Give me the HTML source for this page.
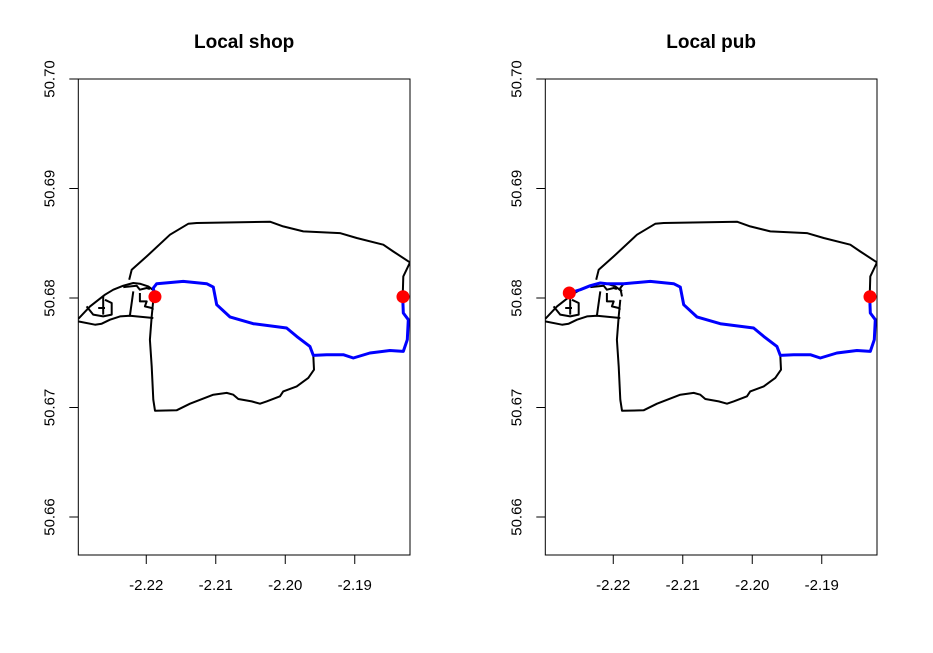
<!DOCTYPE html>
<html><head><meta charset="utf-8"><style>
html,body{margin:0;padding:0;background:#fff;}
svg{display:block;font-family:"Liberation Sans",Arial,sans-serif;}
</style></head><body>
<svg id="chart" width="933" height="653" viewBox="0 0 933 653"></svg>
<script>
const xTicks = [-2.22, -2.21, -2.20, -2.19];
const xTickLabels = ["-2.22", "-2.21", "-2.20", "-2.19"];
const yTicks = [50.66, 50.67, 50.68, 50.69, 50.70];
const yTickLabels = ["50.66", "50.67", "50.68", "50.69", "50.70"];
const panelTitles = ["Local shop", "Local pub"];

const roadOuterLon = [-2.22245,-2.22210,-2.21994,-2.21659,-2.21396,-2.21275,-2.20220,-2.20029,-2.19741,-2.19213,-2.18972,-2.18589,-2.18446,-2.18205,-2.18301,-2.18310];
const roadOuterLat = [50.68167,50.68258,50.68380,50.68578,50.68678,50.68685,50.68697,50.68654,50.68608,50.68593,50.68548,50.68487,50.68425,50.68325,50.68197,50.68015];
const roadLowerLon = [-2.19597,-2.19587,-2.19669,-2.19836,-2.20029,-2.20076,-2.20268,-2.20364,-2.20483,-2.20676,-2.20748,-2.20843,-2.21036,-2.21371,-2.21563,-2.21875,-2.21899,-2.21922,-2.21947,-2.21922,-2.21899];
const roadLowerLat = [50.67476,50.67345,50.67270,50.67193,50.67147,50.67102,50.67056,50.67035,50.67056,50.67078,50.67117,50.67133,50.67117,50.67035,50.66974,50.66971,50.67071,50.67375,50.67619,50.67832,50.67984];
const roadWestTopLon = [-2.22979,-2.22810,-2.22594,-2.22475,-2.22331,-2.22187,-2.22091,-2.21971,-2.21875];
const roadWestTopLat = [50.67808,50.67923,50.68030,50.68076,50.68112,50.68137,50.68131,50.68106,50.68060];
const roadWestBottomLon = [-2.22979,-2.22738,-2.22642,-2.22522,-2.22378,-2.22235,-2.21899];
const roadWestBottomLat = [50.67786,50.67756,50.67765,50.67802,50.67832,50.67838,50.67817];
const roadInner1Lon = [-2.22858,-2.22763,-2.22619,-2.22498,-2.22498,-2.22594];
const roadInner1Lat = [50.67923,50.67848,50.67832,50.67848,50.67954,50.67984];
const roadInner2Lon = [-2.22619,-2.22619];
const roadInner2Lat = [50.68015,50.67848];
const roadInner3Lon = [-2.22691,-2.22594];
const roadInner3Lat = [50.67909,50.67909];
const roadInner4Lon = [-2.22187,-2.22235];
const roadInner4Lat = [50.68060,50.67838];
const roadInner5Lon = [-2.22331,-2.22138,-2.22091,-2.21994,-2.21947];
const roadInner5Lat = [50.68100,50.68112,50.68076,50.68091,50.68082];
const roadInner6Lon = [-2.22091,-2.22091,-2.21994,-2.22019,-2.21922,-2.21899];
const roadInner6Lat = [50.68046,50.67969,50.67969,50.67923,50.67909,50.67893];

const routeShopLon = [-2.18310,-2.18301,-2.18230,-2.18244,-2.18301,-2.18494,-2.18782,-2.19021,-2.19165,-2.19404,-2.19597,-2.19645,-2.19836,-2.19980,-2.20460,-2.20796,-2.20987,-2.21036,-2.21131,-2.21468,-2.21850,-2.21899,-2.21875];
const routeShopLat = [50.68015,50.67863,50.67802,50.67619,50.67512,50.67521,50.67498,50.67452,50.67482,50.67482,50.67476,50.67558,50.67649,50.67726,50.67765,50.67827,50.67939,50.68100,50.68131,50.68152,50.68131,50.68091,50.68015];
const routePubLon = [-2.18310,-2.18301,-2.18230,-2.18244,-2.18301,-2.18494,-2.18782,-2.19021,-2.19165,-2.19404,-2.19597,-2.19645,-2.19836,-2.19980,-2.20460,-2.20796,-2.20987,-2.21036,-2.21131,-2.21468,-2.21850,-2.22091,-2.22187,-2.22331,-2.22475,-2.22633];
const routePubLat = [50.68015,50.67863,50.67802,50.67619,50.67512,50.67521,50.67498,50.67452,50.67482,50.67482,50.67476,50.67558,50.67649,50.67726,50.67765,50.67827,50.67939,50.68100,50.68131,50.68152,50.68131,50.68131,50.68137,50.68112,50.68076,50.68046];
const shopPointsLon = [-2.21875, -2.18306];
const shopPointsLat = [50.68012, 50.68012];
const pubPointsLon = [-2.22633, -2.18306];
const pubPointsLat = [50.68046, 50.68012];

const NS = "http://www.w3.org/2000/svg";
const svgEl = document.getElementById("chart");
const xMin = -2.22978, xMax = -2.18205, yMin = 50.65653, yMax = 50.70;
const pw = 331.7, plotTop = 79, plotBottom = 555;

function mk(tag, attrs, parent){ const e=document.createElementNS(NS,tag); for(const k in attrs) e.setAttribute(k,attrs[k]); parent.appendChild(e); return e; }

function drawPanel(idx, left, routeLon, routeLat, ptLon, ptLat){
  const sx = v => left + (v - xMin) / (xMax - xMin) * pw;
  const sy = v => plotBottom - (v - yMin) / (yMax - yMin) * (plotBottom - plotTop);
  const g = mk("g", {}, svgEl);
  
  
  const clipId = "clip" + idx;
  const cp = mk("clipPath", {id: clipId}, g);
  mk("rect", {x:left, y:plotTop, width:pw, height:plotBottom-plotTop}, cp);
  const plot = mk("g", {"clip-path":"url(#"+clipId+")"}, g);
  const pts = (lo, la) => lo.map((v,i)=>sx(v).toFixed(1)+","+sy(la[i]).toFixed(1)).join(" ");
  const roads = [[roadOuterLon,roadOuterLat],[roadLowerLon,roadLowerLat],[roadWestTopLon,roadWestTopLat],[roadWestBottomLon,roadWestBottomLat],[roadInner1Lon,roadInner1Lat],[roadInner2Lon,roadInner2Lat],[roadInner3Lon,roadInner3Lat],[roadInner4Lon,roadInner4Lat],[roadInner5Lon,roadInner5Lat],[roadInner6Lon,roadInner6Lat],[routeShopLon,routeShopLat]];
  roads.forEach(r => {
    const p = mk("polyline", {points: pts(r[0], r[1]), fill:"none", stroke:"#000", "stroke-width":2, "stroke-linejoin":"round"}, plot);
    
    
  });
  const route = mk("polyline", {points: pts(routeLon, routeLat), fill:"none", stroke:"#0000ff", "stroke-width":3, "stroke-linejoin":"round"}, plot);
  
  
  ptLon.forEach((v,i) => {
    const c = mk("circle", {cx:sx(v), cy:sy(ptLat[i]), r:6.5, fill:"#ff0000"}, plot);
    
    
  });
  const box = mk("rect", {x:left, y:plotTop, width:pw, height:plotBottom-plotTop, fill:"none", stroke:"#000", "stroke-width":1}, g);
  
  
  xTicks.forEach((t,i) => {
    const x = sx(t);
    const tk = mk("line", {x1:x, x2:x, y1:plotBottom, y2:plotBottom+9, stroke:"#000"}, g);
    
    
    const tx = mk("text", {x:x, y:plotBottom+35, "text-anchor":"middle", "font-size":"15"}, g);
    tx.textContent = xTickLabels[i];
    
    
  });
  yTicks.forEach((t,i) => {
    const y = sy(t);
    const tk = mk("line", {x1:left-9, x2:left, y1:y, y2:y, stroke:"#000"}, g);
    
    
    const tx = mk("text", {x:0, y:0, "text-anchor":"middle", "font-size":"15", transform:"translate("+(left-24)+","+y+") rotate(-90)"}, g);
    tx.textContent = yTickLabels[i];
    
    
  });
  const title = mk("text", {x:left+pw/2, y:48, "text-anchor":"middle", "font-size":"19", "font-weight":"bold"}, g);
  title.textContent = panelTitles[idx];
  
  
}
drawPanel(0, 78.3, routeShopLon, routeShopLat, shopPointsLon, shopPointsLat);
drawPanel(1, 545.3, routePubLon, routePubLat, pubPointsLon, pubPointsLat);
</script>
</body></html>
